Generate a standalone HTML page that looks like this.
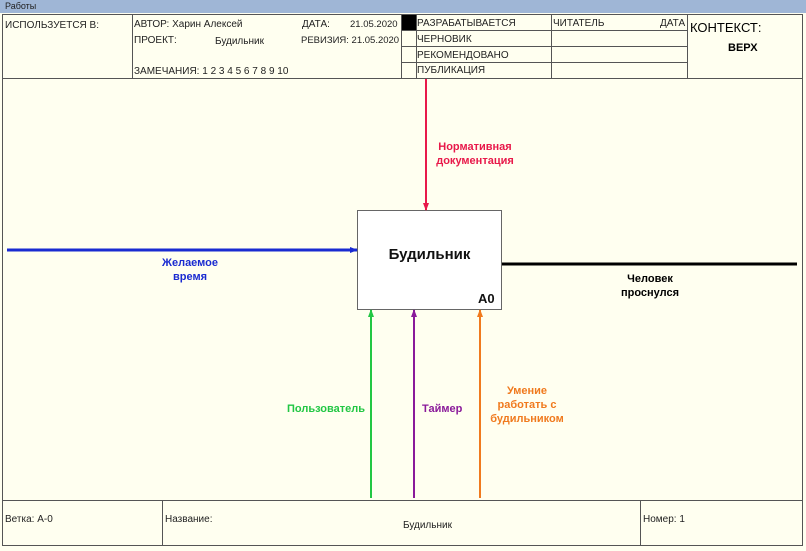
<!DOCTYPE html>
<html><head><meta charset="utf-8"><style>
body{margin:0;width:806px;height:551px;background:#fffff0;font-family:"Liberation Sans",sans-serif;overflow:hidden;position:relative}
.a{position:absolute}
.t{font-size:10px;color:#222;white-space:nowrap}
</style></head><body>
<div class="a" style="left:0;top:0;width:806px;height:13px;background:#9fb6d6"><span class="t" style="position:absolute;left:5px;top:1px;font-size:9px">Работы</span></div>
<svg class="a" style="left:0;top:0" width="806" height="551">
<defs>
<marker id="mr" markerWidth="8" markerHeight="8" refX="7" refY="4" orient="auto" markerUnits="userSpaceOnUse"><path d="M0,1 L8,4 L0,7z" fill="#e8194a"/></marker>
<marker id="mb" markerWidth="8" markerHeight="8" refX="7" refY="4" orient="auto" markerUnits="userSpaceOnUse"><path d="M0,1 L8,4 L0,7z" fill="#1a2bd1"/></marker>
<marker id="mg" markerWidth="8" markerHeight="8" refX="7" refY="4" orient="auto" markerUnits="userSpaceOnUse"><path d="M0,1 L8,4 L0,7z" fill="#22c744"/></marker>
<marker id="mp" markerWidth="8" markerHeight="8" refX="7" refY="4" orient="auto" markerUnits="userSpaceOnUse"><path d="M0,1 L8,4 L0,7z" fill="#8a1a9a"/></marker>
<marker id="mo" markerWidth="8" markerHeight="8" refX="7" refY="4" orient="auto" markerUnits="userSpaceOnUse"><path d="M0,1 L8,4 L0,7z" fill="#f07a1e"/></marker>
</defs>
<g fill="none" stroke="#555" stroke-width="1">
<rect x="2.5" y="14.5" width="800" height="531"/>
<line x1="2" y1="78.5" x2="803" y2="78.5"/>
<line x1="132.5" y1="14" x2="132.5" y2="78"/>
<line x1="401.5" y1="14" x2="401.5" y2="78"/>
<line x1="416.5" y1="14" x2="416.5" y2="78"/>
<line x1="551.5" y1="14" x2="551.5" y2="78"/>
<line x1="687.5" y1="14" x2="687.5" y2="78"/>
<line x1="401" y1="30.5" x2="687" y2="30.5"/>
<line x1="401" y1="46.5" x2="687" y2="46.5"/>
<line x1="401" y1="62.5" x2="687" y2="62.5"/>
<line x1="2" y1="500.5" x2="803" y2="500.5"/>
<line x1="162.5" y1="500" x2="162.5" y2="545"/>
<line x1="640.5" y1="500" x2="640.5" y2="545"/>
</g>
<rect x="402" y="15" width="14" height="15" fill="#000"/>
<rect x="357.5" y="210.5" width="144" height="99" fill="#fff" stroke="#666"/>
<line x1="426" y1="79" x2="426" y2="210" stroke="#e8194a" stroke-width="2" marker-end="url(#mr)"/>
<line x1="7" y1="250" x2="357" y2="250" stroke="#1a2bd1" stroke-width="3" marker-end="url(#mb)"/>
<line x1="502" y1="264" x2="797" y2="264" stroke="#000" stroke-width="3"/>
<line x1="371" y1="498" x2="371" y2="310" stroke="#22c744" stroke-width="2" marker-end="url(#mg)"/>
<line x1="414" y1="498" x2="414" y2="310" stroke="#8a1a9a" stroke-width="2" marker-end="url(#mp)"/>
<line x1="480" y1="498" x2="480" y2="310" stroke="#f07a1e" stroke-width="2" marker-end="url(#mo)"/>
</svg>
<div class="a t" style="left:5px;top:20px">ИСПОЛЬЗУЕТСЯ В:</div>
<div class="a t" style="left:134px;top:19px">АВТОР: Харин Алексей</div>
<div class="a t" style="left:134px;top:35px">ПРОЕКТ:</div>
<div class="a t" style="left:215px;top:36px">Будильник</div>
<div class="a t" style="left:302px;top:19px">ДАТА:</div>
<div class="a t" style="left:350px;top:19px;font-size:9.5px">21.05.2020</div>
<div class="a t" style="left:301px;top:35px;font-size:9.5px">РЕВИЗИЯ: 21.05.2020</div>
<div class="a t" style="left:134px;top:66px">ЗАМЕЧАНИЯ: 1 2 3 4 5 6 7 8 9 10</div>
<div class="a t" style="left:417px;top:18px">РАЗРАБАТЫВАЕТСЯ</div>
<div class="a t" style="left:417px;top:34px">ЧЕРНОВИК</div>
<div class="a t" style="left:417px;top:50px">РЕКОМЕНДОВАНО</div>
<div class="a t" style="left:417px;top:65px">ПУБЛИКАЦИЯ</div>
<div class="a t" style="left:553px;top:18px">ЧИТАТЕЛЬ</div>
<div class="a t" style="left:660px;top:18px">ДАТА</div>
<div class="a" style="left:690px;top:20px;font-size:13px;color:#000">КОНТЕКСТ:</div>
<div class="a" style="left:728px;top:42px;font-size:11px;font-weight:bold;color:#000">ВЕРХ</div>
<div class="a" style="left:420px;top:140px;width:110px;text-align:center;font-size:11px;font-weight:bold;color:#e8194a;line-height:14px">Нормативная<br>документация</div>
<div class="a" style="left:140px;top:256px;width:100px;text-align:center;font-size:11px;font-weight:bold;color:#1a2bd1;line-height:14px">Желаемое<br>время</div>
<div class="a" style="left:600px;top:272px;width:100px;text-align:center;font-size:11px;font-weight:bold;color:#000;line-height:14px">Человек<br>проснулся</div>
<div class="a" style="left:357px;top:246px;width:145px;text-align:center;font-size:15px;font-weight:bold;color:#111">Будильник</div>
<div class="a" style="left:478px;top:291px;font-size:13px;font-weight:bold;color:#111">A0</div>
<div class="a" style="left:287px;top:403px;font-size:11px;font-weight:bold;color:#22c744">Пользователь</div>
<div class="a" style="left:422px;top:403px;font-size:11px;font-weight:bold;color:#8a1a9a">Таймер</div>
<div class="a" style="left:482px;top:384px;width:90px;text-align:center;font-size:11px;font-weight:bold;color:#f07a1e;line-height:14px">Умение<br>работать с<br>будильником</div>
<div class="a t" style="left:5px;top:514px">Ветка: A-0</div>
<div class="a t" style="left:165px;top:514px">Название:</div>
<div class="a t" style="left:403px;top:520px">Будильник</div>
<div class="a t" style="left:643px;top:514px">Номер: 1</div>
</body></html>
